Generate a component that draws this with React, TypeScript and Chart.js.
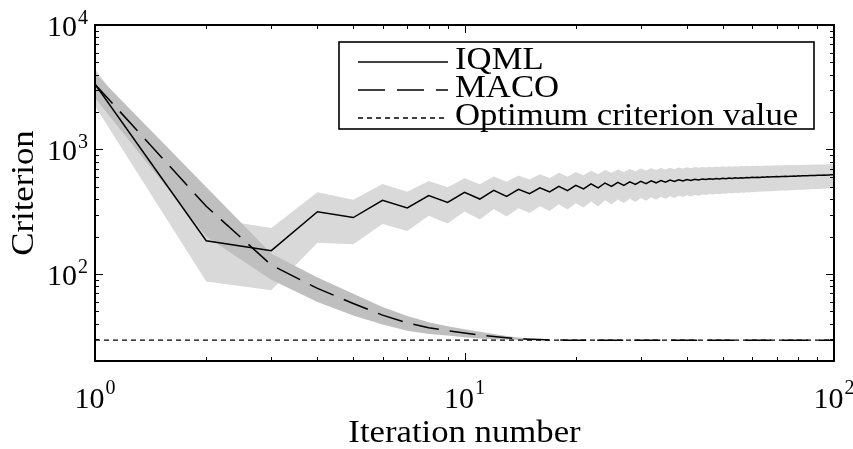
import React, { useEffect, useRef } from "react";
import { Chart, registerables } from "chart.js";

Chart.register(...registerables);

// ---------- data ----------
const iterations = Array.from({ length: 100 }, (_, i) => i + 1);

const iqmlValues = [
  3340, 185, 154, 316, 284, 390, 339, 426, 376, 453,
  400, 470, 420, 478, 442, 492, 456, 506, 467, 515,
  482, 529, 491, 538, 506, 544, 515, 550, 524, 555,
  532, 560, 540, 564, 547, 568, 553, 571, 559, 574,
  564, 577, 569, 580, 573, 583, 577, 585, 580, 588,
  583, 590, 586, 592, 588, 594, 591, 596, 593, 598,
  595, 599, 597, 601, 599, 603, 601, 604, 603, 606,
  605, 608, 607, 609, 608, 611, 610, 612, 611, 614,
  613, 615, 614, 616, 616, 617, 617, 619, 618, 620,
  620, 621, 621, 623, 622, 624, 624, 626, 626, 628,
];

const iqmlSpread = [
  1100, 98, 80, 138, 111, 138, 118, 132, 122, 135,
  126, 138, 130, 140, 133, 142, 135, 143, 138, 145,
  140, 146, 142, 147, 143, 147, 144, 147, 145, 147,
  145, 147, 145, 146, 145, 146, 145, 146, 144, 145,
  144, 145, 144, 145, 143, 144, 143, 144, 143, 144,
  142, 143, 142, 143, 142, 143, 141, 142, 141, 142,
  141, 142, 140, 141, 140, 141, 140, 141, 140, 140,
  139, 140, 139, 140, 139, 140, 139, 139, 139, 139,
  138, 139, 138, 139, 138, 138, 138, 138, 138, 138,
  137, 138, 137, 137, 137, 137, 137, 137, 137, 137,
];

const macoValues = [
  3340, 350, 118, 76.6, 58, 46.7, 40.5, 37, 35, 33.5,
  32.3, 31.4, 30.7, 30.2, 29.9, 29.7, 29.55, 29.45, 29.4, 29.4,
  29.4, 29.4, 29.4, 29.4, 29.4, 29.4, 29.4, 29.4, 29.4, 29.4,
  29.4, 29.4, 29.4, 29.4, 29.4, 29.4, 29.4, 29.4, 29.4, 29.4,
  29.4, 29.4, 29.4, 29.4, 29.4, 29.4, 29.4, 29.4, 29.4, 29.4,
  29.4, 29.4, 29.4, 29.4, 29.4, 29.4, 29.4, 29.4, 29.4, 29.4,
  29.4, 29.4, 29.4, 29.4, 29.4, 29.4, 29.4, 29.4, 29.4, 29.4,
  29.4, 29.4, 29.4, 29.4, 29.4, 29.4, 29.4, 29.4, 29.4, 29.4,
  29.4, 29.4, 29.4, 29.4, 29.4, 29.4, 29.4, 29.4, 29.4, 29.4,
  29.4, 29.4, 29.4, 29.4, 29.4, 29.4, 29.4, 29.4, 29.4, 29.4,
];

const macoSpread = [
  750, 150, 28, 17, 11.5, 7.5, 5.5, 4, 3, 2.5,
  2, 1.5, 1, 0.7, 0.4, 0.2, 0, 0, 0, 0,
  0, 0, 0, 0, 0, 0, 0, 0, 0, 0,
  0, 0, 0, 0, 0, 0, 0, 0, 0, 0,
  0, 0, 0, 0, 0, 0, 0, 0, 0, 0,
  0, 0, 0, 0, 0, 0, 0, 0, 0, 0,
  0, 0, 0, 0, 0, 0, 0, 0, 0, 0,
  0, 0, 0, 0, 0, 0, 0, 0, 0, 0,
  0, 0, 0, 0, 0, 0, 0, 0, 0, 0,
  0, 0, 0, 0, 0, 0, 0, 0, 0, 0,
];

const optimumValue = 29.4;

const xMajorTicks = [1, 10, 100];
const xTickExponents = ["0", "1", "2"];
const xMinorTicks = [2, 3, 4, 5, 6, 7, 8, 9, 20, 30, 40, 50, 60, 70, 80, 90];
const yMajorTicks = [100, 1000, 10000];
const yTickExponents = ["2", "3", "4"];
const yMinorTicks = [
  20, 30, 40, 50, 60, 70, 80, 90,
  200, 300, 400, 500, 600, 700, 800, 900,
  2000, 3000, 4000, 5000, 6000, 7000, 8000, 9000,
];

const legendLabels = ["IQML", "MACO", "Optimum criterion value"];
const xTitle = "Iteration number";
const yTitle = "Criterion";

// ---------- drawing helpers ----------
const FONT = '"Liberation Serif", "Times New Roman", serif';
const SX = 1.12;

function drawText(
  ctx: CanvasRenderingContext2D,
  text: string,
  x: number,
  y: number,
  size: number,
  align: CanvasTextAlign,
  sx = SX,
) {
  ctx.save();
  ctx.font = `${size}px ${FONT}`;
  ctx.translate(x, y);
  ctx.scale(sx, 1);
  ctx.textAlign = align;
  ctx.textBaseline = "alphabetic";
  ctx.fillStyle = "#000";
  ctx.fillText(text, 0, 0);
  ctx.restore();
}

function textWidth(ctx: CanvasRenderingContext2D, text: string, size: number, sx = SX) {
  ctx.save();
  ctx.font = `${size}px ${FONT}`;
  const w = ctx.measureText(text).width * sx;
  ctx.restore();
  return w;
}

const BASE = 30;
const SUP = 20;

const framePlugin = {
  id: "frame",
  afterDraw(chart: any) {
    const ctx: CanvasRenderingContext2D = chart.ctx;
    const { left, right, top, bottom } = chart.chartArea;
    const xs = chart.scales.x;
    const ys = chart.scales.y;
    ctx.save();

    // ticks (inside, all four sides)
    ctx.strokeStyle = "#000";
    ctx.lineWidth = 1;
    ctx.setLineDash([]);
    const tickX = (v: number, len: number) => {
      const p = Math.round(xs.getPixelForValue(v)) + 0.5;
      ctx.beginPath();
      ctx.moveTo(p, bottom);
      ctx.lineTo(p, bottom - len);
      ctx.moveTo(p, top);
      ctx.lineTo(p, top + len);
      ctx.stroke();
    };
    const tickY = (v: number, len: number) => {
      const p = Math.round(ys.getPixelForValue(v)) + 0.5;
      ctx.beginPath();
      ctx.moveTo(left, p);
      ctx.lineTo(left + len, p);
      ctx.moveTo(right, p);
      ctx.lineTo(right - len, p);
      ctx.stroke();
    };
    xMinorTicks.forEach((v) => tickX(v, 4));
    xMajorTicks.forEach((v) => tickX(v, 8));
    yMinorTicks.forEach((v) => tickY(v, 4));
    yMajorTicks.forEach((v) => tickY(v, 8));

    // frame
    ctx.lineWidth = 2;
    ctx.strokeRect(left, top, right - left, bottom - top);

    // x tick labels
    xMajorTicks.forEach((v, i) => {
      const p = xs.getPixelForValue(v);
      const w1 = textWidth(ctx, "10", BASE, 1);
      const w2 = textWidth(ctx, xTickExponents[i], SUP, 1);
      const start = p - (w1 + 1 + w2) / 2;
      drawText(ctx, "10", start, 408, BASE, "left", 1);
      drawText(ctx, xTickExponents[i], start + w1 + 1, 394, SUP, "left", 1);
    });

    // y tick labels
    yMajorTicks.forEach((v, i) => {
      const p = ys.getPixelForValue(v);
      const w2 = textWidth(ctx, yTickExponents[i], SUP, 1);
      const rightEdge = left - 7;
      drawText(ctx, yTickExponents[i], rightEdge, p - 1, SUP, "right", 1);
      drawText(ctx, "10", rightEdge - w2 - 1, p + 11, BASE, "right", 1);
    });

    // axis titles
    drawText(ctx, xTitle, (left + right) / 2, 442, 31, "center");
    ctx.save();
    ctx.translate(33, (top + bottom) / 2);
    ctx.rotate(-Math.PI / 2);
    drawText(ctx, yTitle, 0, 0, 31, "center");
    ctx.restore();

    // legend
    const lx = 339, ly = 42, lw = 475, lh = 87;
    ctx.fillStyle = "#fff";
    ctx.fillRect(lx, ly, lw, lh);
    ctx.lineWidth = 1.6;
    ctx.strokeStyle = "#000";
    ctx.strokeRect(lx, ly, lw, lh);
    const dashes = [[], [27, 12], [5, 4]];
    const baselines = [68.5, 96.5, 124.5];
    legendLabels.forEach((label, i) => {
      const yy = baselines[i] - 6.5;
      ctx.save();
      ctx.lineWidth = 1.5;
      ctx.setLineDash(dashes[i]);
      ctx.beginPath();
      ctx.moveTo(358, yy);
      ctx.lineTo(448, yy);
      ctx.stroke();
      ctx.restore();
      drawText(ctx, label, 455, baselines[i], 31, "left");
    });

    ctx.restore();
  },
};

export default function App() {
  const canvasRef = useRef<HTMLCanvasElement | null>(null);

  useEffect(() => {
    const canvas = canvasRef.current;
    if (!canvas) return;
    const pts = (vals: number[]) => iterations.map((x, i) => ({ x, y: vals[i] }));
    const iqmlUpper = iterations.map((x, i) => ({ x, y: iqmlValues[i] + iqmlSpread[i] }));
    const iqmlLower = iterations.map((x, i) => ({ x, y: iqmlValues[i] - iqmlSpread[i] }));
    const macoUpper = iterations.map((x, i) => ({ x, y: macoValues[i] + macoSpread[i] }));
    const macoLower = iterations.map((x, i) => ({ x, y: macoValues[i] - macoSpread[i] }));
    const invisible = "rgba(0,0,0,0)";

    const chart = new Chart(canvas, {
      type: "line",
      data: {
        datasets: [
          {
            label: "IQML band",
            data: iqmlUpper,
            borderColor: invisible,
            borderWidth: 0,
            backgroundColor: "#d9d9d9",
            fill: "+1",
            pointRadius: 0,
            order: 10,
          },
          {
            label: "IQML band low",
            data: iqmlLower,
            borderColor: invisible,
            borderWidth: 0,
            fill: false,
            pointRadius: 0,
            order: 10,
          },
          {
            label: "MACO band",
            data: macoUpper,
            borderColor: invisible,
            borderWidth: 0,
            backgroundColor: "#bfbfbf",
            fill: "+1",
            pointRadius: 0,
            order: 5,
          },
          {
            label: "MACO band low",
            data: macoLower,
            borderColor: invisible,
            borderWidth: 0,
            fill: false,
            pointRadius: 0,
            order: 5,
          },
          {
            label: legendLabels[0],
            data: pts(iqmlValues),
            borderColor: "#000",
            borderWidth: 1.5,
            fill: false,
            pointRadius: 0,
            order: 2,
          },
          {
            label: legendLabels[1],
            data: pts(macoValues),
            borderColor: "#000",
            borderWidth: 1.5,
            borderDash: [26, 11],
            fill: false,
            pointRadius: 0,
            order: 1,
          },
          {
            label: legendLabels[2],
            data: [
              { x: iterations[0], y: optimumValue },
              { x: iterations[iterations.length - 1], y: optimumValue },
            ],
            borderColor: "#000",
            borderWidth: 1.3,
            borderDash: [5, 4],
            fill: false,
            pointRadius: 0,
            order: 0,
          },
        ],
      },
      options: {
        animation: false,
        responsive: false,
        devicePixelRatio: 1,
        events: [],
        layout: { padding: { left: 95, right: 19, top: 25, bottom: 88 } },
        elements: { line: { tension: 0 }, point: { radius: 0 } },
        scales: {
          x: { type: "logarithmic", min: 1, max: 100, display: false },
          y: { type: "logarithmic", min: 20, max: 10000, display: false },
        },
        plugins: {
          legend: { display: false },
          tooltip: { enabled: false },
        },
      },
      plugins: [framePlugin],
    } as any);

    return () => chart.destroy();
  }, []);

  return (
    <div style={{ position: "absolute", left: 0, top: 0, width: 853, height: 449, background: "#fff" }}>
      <canvas ref={canvasRef} width={853} height={449} style={{ display: "block" }} />
    </div>
  );
}
